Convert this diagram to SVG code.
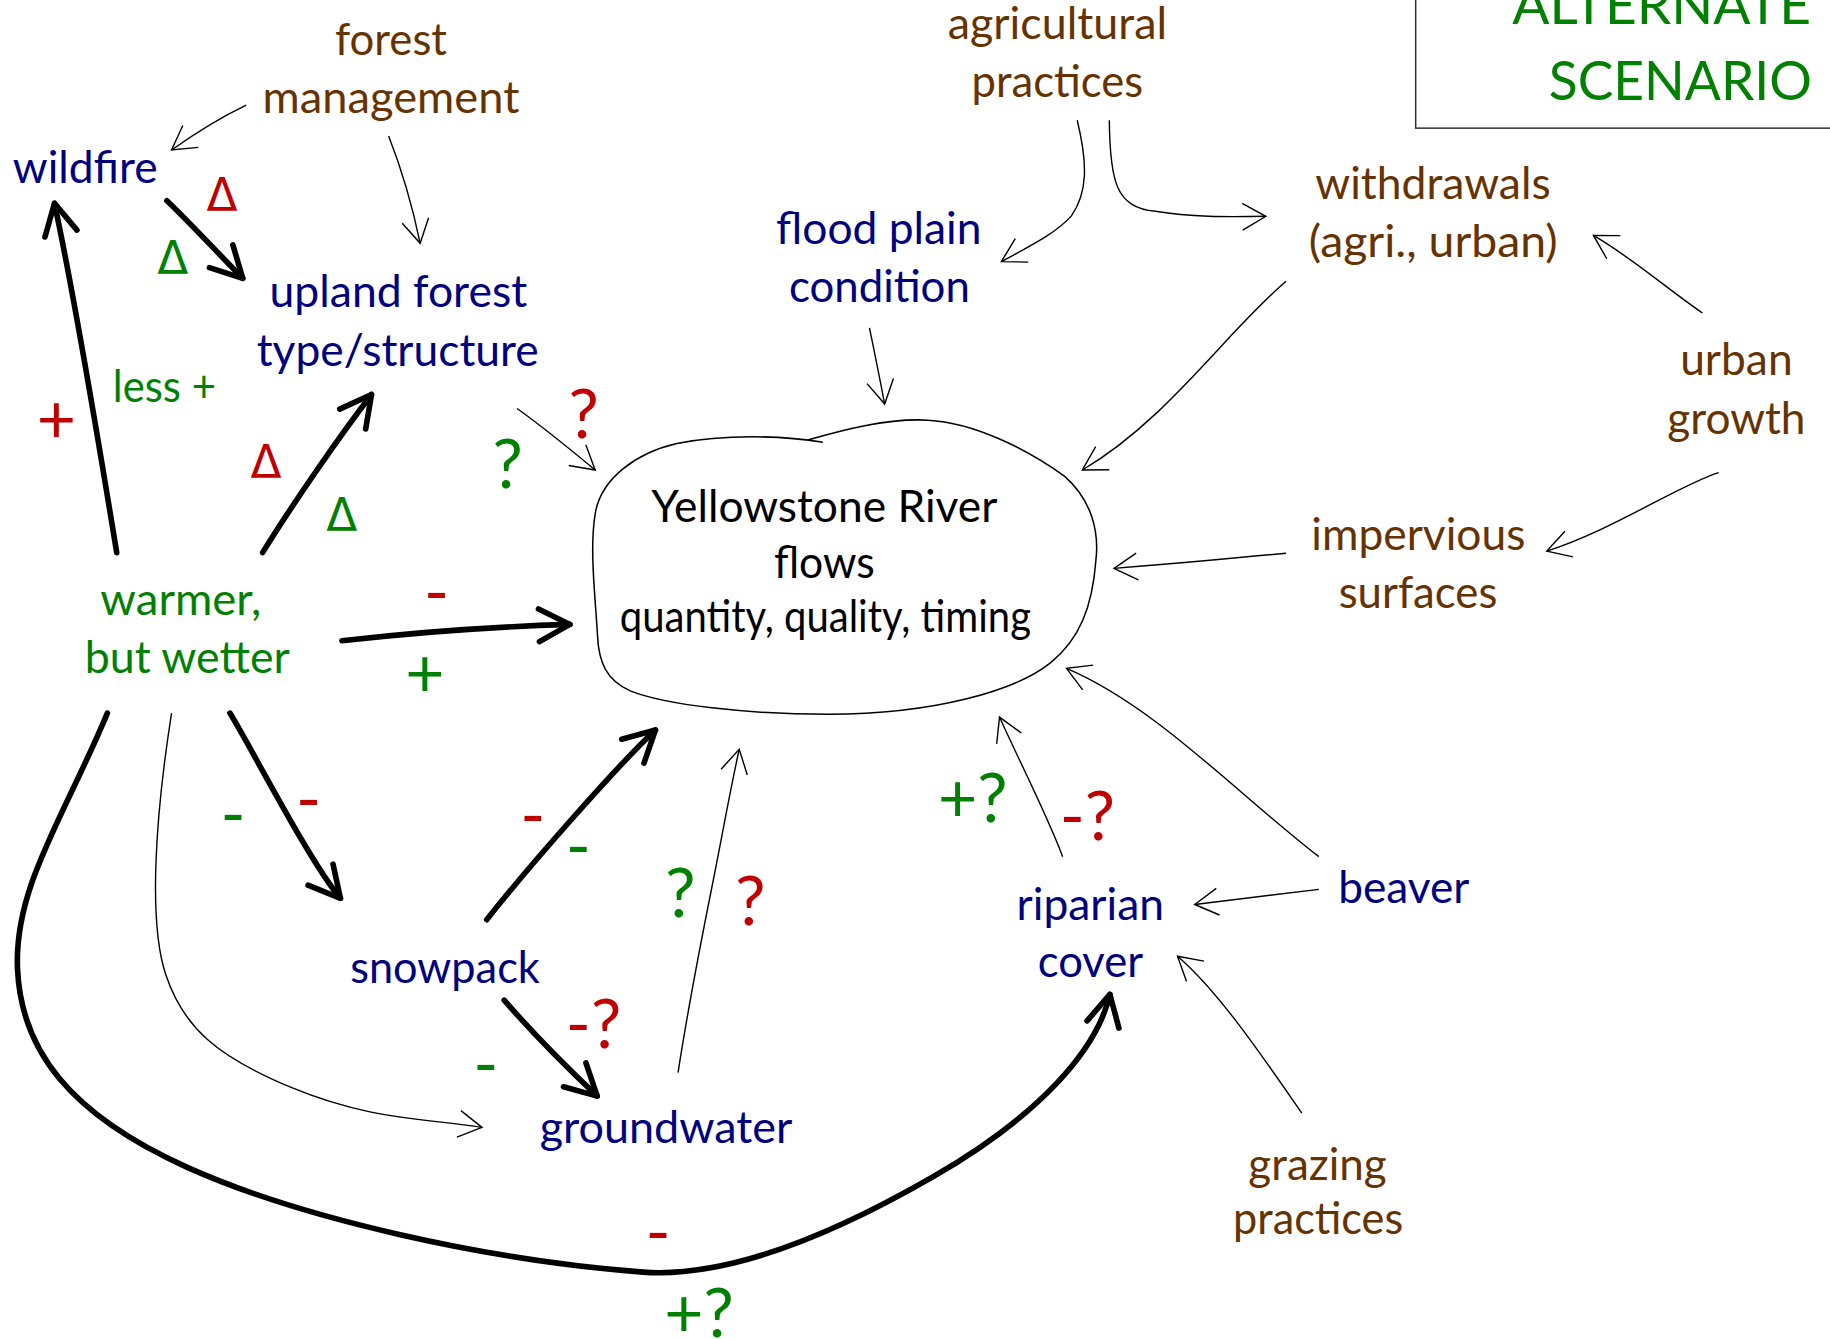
<svg xmlns="http://www.w3.org/2000/svg" width="1830" height="1339" viewBox="0 0 1830 1339">
<style>
text { font-family: Lato, 'Open Sans', sans-serif; }
.lbl { font-size: 38px; text-anchor: middle; }
.navy { fill: #00007F; }
.brown { fill: #663300; }
.green { fill: #008000; }
.red { fill: #C00000; }
.sym { font-size: 58px; text-anchor: middle; }
.delta { font-size: 39px; text-anchor: middle; font-family: 'DejaVu Sans', sans-serif; }
.thin { fill: none; stroke: #000; stroke-width: 1.2; marker-end: url(#ah); }
.thick { fill: none; stroke: #000; stroke-width: 4.8; stroke-linecap: round; marker-end: url(#ahT); }
</style>
<defs>
<marker id="ah" markerUnits="userSpaceOnUse" viewBox="-30 -20 40 40" markerWidth="40" markerHeight="40" refX="0" refY="0" orient="auto" overflow="visible">
<path d="M-20,-11.5 L0,0 L-20,11.5" fill="none" stroke="#000" stroke-width="1.2"/>
</marker>
<marker id="ahT" markerUnits="userSpaceOnUse" viewBox="-40 -25 50 50" markerWidth="50" markerHeight="50" refX="0" refY="0" orient="auto" overflow="visible">
<path d="M-26.5,-14 L0,0 L-26.5,14" fill="none" stroke="#000" stroke-width="4.8" stroke-linecap="round" stroke-linejoin="round"/>
</marker>
</defs>
<rect x="0" y="0" width="1830" height="1339" fill="#fff"/>
<g transform="scale(1.16709)">
<g id="connectors">
<path class="thin" d="M211,90 C190,100 166,115 147,128.5"/>
<path class="thin" d="M333,116.5 Q350,160 360,208.5"/>
<path class="thick" d="M143,172 C158,186 185,215 208,238.5"/>
<path class="thick" d="M100,473.5 C88,400 65,260 46.7,174.2"/>
<path class="thick" d="M225,473.5 C250,433 290,375 318.3,338"/>
<path class="thin" d="M443,350 C460,362 485,382 510,402.7"/>
<path class="thick" d="M293,549 Q390,538 488.3,535"/>
<path class="thick" d="M197,611 C215,640 265,738 291.7,769.7"/>
<path class="thin" d="M147,611 C133,700 127,790 142,835 S185,905 250,932 S360,958 413,966"/>
<path class="thick" d="M92,611 C55,700 12,760 15,830 S60,955 160,1000 S420,1080 551,1090 C621,1095 710,1060 800,1008 S940,900 951,852"/>
<path class="thick" d="M417,788 C455,740 530,655 561.6,625.5"/>
<path class="thick" d="M432,857 Q465,895 511.7,939.2"/>
<path class="thin" d="M581,919 C590,860 600,810 610,760 C620,710 625,680 633.4,642"/>
<path class="thin" d="M745,281 Q752,315 758,346.2"/>
<path class="thin" d="M923,103 C932,140 932,165 918,185 C905,200 880,212 858,224.2"/>
<path class="thin" d="M950.5,103 C951,155 956,178 990,181 C1020,186 1050,186 1084.6,185.3"/>
<path class="thin" d="M1102,241 C1050,285 1000,360 927.4,402.7"/>
<path class="thin" d="M1458.7,268.2 C1425,245 1400,222 1365.3,201.7"/>
<path class="thin" d="M1472.6,405 C1440,415 1380,455 1325.3,472.2"/>
<path class="thin" d="M1102,474 Q1040,480 954.5,487"/>
<path class="thin" d="M910.5,734 C898,700 870,645 856.4,614.4"/>
<path class="thin" d="M1130,734 C1060,680 990,605 913.8,572.7"/>
<path class="thin" d="M1130,762 L1023.7,775"/>
<path class="thin" d="M1115.4,953.7 C1085,910 1045,850 1008.9,819.3"/>
</g>
<g id="edge-labels">
<text class="delta red" x="190.3" y="180.6">Δ</text>
<text class="delta green" x="148" y="235">Δ</text>
<text class="delta red" x="228" y="410">Δ</text>
<text class="delta green" x="292.8" y="455">Δ</text>
<text class="sym red" x="48.3" y="379.5">+</text>
<text class="green" x="96.7" y="344.3" font-size="38" textLength="88.3" lengthAdjust="spacingAndGlyphs">less +</text>
<text class="sym red" x="500" y="375.7">?</text>
<text class="sym green" x="435" y="418.5">?</text>
<text class="sym red" x="374" y="528">-</text>
<text class="sym green" x="364" y="597">+</text>
<text class="sym green" x="199.7" y="718">-</text>
<text class="sym red" x="264.5" y="705.5">-</text>
<text class="sym red" x="456.5" y="719">-</text>
<text class="sym green" x="495.5" y="745.5">-</text>
<text class="sym green" x="583" y="785.5">?</text>
<text class="sym red" x="643" y="792.6">?</text>
<text class="sym green" x="833.5" y="704.1">+?</text>
<text class="sym red" x="931.7" y="719.8">-?</text>
<text class="sym red" x="508.5" y="898.3">-?</text>
<text class="sym green" x="416.2" y="932">-</text>
<text class="sym red" x="563.9" y="1076">-</text>
<text class="sym green" x="599" y="1145.4">+?</text>
</g>
<g id="n-forest-management">
<text class="lbl brown" x="335" y="47" textLength="96" lengthAdjust="spacingAndGlyphs">forest</text>
<text class="lbl brown" x="335" y="96.6" textLength="220" lengthAdjust="spacingAndGlyphs">management</text>
</g>
<g id="n-agricultural-practices">
<text class="lbl brown" x="906" y="33.7" textLength="188" lengthAdjust="spacingAndGlyphs">agricultural</text>
<text class="lbl brown" x="906" y="82.8" textLength="147" lengthAdjust="spacingAndGlyphs">practices</text>
</g>
<g id="n-alternate-scenario">
<rect x="1213" y="-10" width="400" height="119.8" fill="none" stroke="#333" stroke-width="1.3"/>
<text class="green" x="1551.7" y="20.3" font-size="47" text-anchor="end" textLength="256" lengthAdjust="spacingAndGlyphs">ALTERNATE</text>
<text class="green" x="1552.6" y="85.9" font-size="47" text-anchor="end" textLength="225.6" lengthAdjust="spacingAndGlyphs">SCENARIO</text>
</g>
<g id="n-wildfire">
<text class="navy" x="11" y="156.6" font-size="38" textLength="124" lengthAdjust="spacingAndGlyphs">wildfire</text>
</g>
<g id="n-upland-forest">
<text class="lbl navy" x="341.3" y="263.4" textLength="220.7" lengthAdjust="spacingAndGlyphs">upland forest</text>
<text class="lbl navy" x="340.8" y="313.7" textLength="241.7" lengthAdjust="spacingAndGlyphs">type/structure</text>
</g>
<g id="n-flood-plain">
<text class="lbl navy" x="753" y="209" textLength="176" lengthAdjust="spacingAndGlyphs">flood plain</text>
<text class="lbl navy" x="753.5" y="258.5" textLength="155" lengthAdjust="spacingAndGlyphs">condition</text>
</g>
<g id="n-withdrawals">
<text class="lbl brown" x="1227.8" y="170.5" textLength="201.7" lengthAdjust="spacingAndGlyphs">withdrawals</text>
<text class="lbl brown" x="1228" y="220.4" textLength="213.4" lengthAdjust="spacingAndGlyphs">(agri., urban)</text>
</g>
<g id="n-urban-growth">
<text class="lbl brown" x="1487.8" y="321.3" textLength="96.4" lengthAdjust="spacingAndGlyphs">urban</text>
<text class="lbl brown" x="1487.8" y="371.5" textLength="118.3" lengthAdjust="spacingAndGlyphs">growth</text>
</g>
<g id="n-impervious-surfaces">
<text class="lbl brown" x="1215.3" y="471.5" textLength="183.4" lengthAdjust="spacingAndGlyphs">impervious</text>
<text class="lbl brown" x="1215" y="521" textLength="136" lengthAdjust="spacingAndGlyphs">surfaces</text>
</g>
<g id="n-yellowstone">
<path d="M692,377 C720,369 760,358 795,360 C835,362 880,385 912,408 C935,428 942,455 939,480 C936,520 925,548 900,568 C870,592 800,612 710,612 C640,612 570,604 540,592 C520,583 513,568 512,545 C510,510 505,470 510,440 C515,410 545,388 580,380 C620,372 670,373 705,379" fill="none" stroke="#000" stroke-width="1.3"/>
<text class="lbl" x="706.3" y="447" fill="#000" textLength="296.5" lengthAdjust="spacingAndGlyphs">Yellowstone River</text>
<text class="lbl" x="706.3" y="495.5" fill="#000" textLength="86.3" lengthAdjust="spacingAndGlyphs">flows</text>
<text class="lbl" x="707.2" y="541.2" fill="#000" font-size="34" textLength="352.4" lengthAdjust="spacingAndGlyphs">quantity, quality, timing</text>
</g>
<g id="n-warmer">
<text class="lbl green" x="155" y="527" textLength="138" lengthAdjust="spacingAndGlyphs">warmer,</text>
<text class="lbl green" x="160.5" y="576.4" textLength="175.6" lengthAdjust="spacingAndGlyphs">but wetter</text>
</g>
<g id="n-snowpack">
<text class="lbl navy" x="381.3" y="842.5" textLength="162.5" lengthAdjust="spacingAndGlyphs">snowpack</text>
</g>
<g id="n-groundwater">
<text class="lbl navy" x="570.7" y="979.7" textLength="216.5" lengthAdjust="spacingAndGlyphs">groundwater</text>
</g>
<g id="n-riparian">
<text class="lbl navy" x="934.2" y="788.1" textLength="126.3" lengthAdjust="spacingAndGlyphs">riparian</text>
<text class="lbl navy" x="934.3" y="837.3" textLength="90.2" lengthAdjust="spacingAndGlyphs">cover</text>
</g>
<g id="n-beaver">
<text class="lbl navy" x="1202.8" y="773.4" textLength="112.4" lengthAdjust="spacingAndGlyphs">beaver</text>
</g>
<g id="n-grazing">
<text class="lbl brown" x="1128.9" y="1011" textLength="118.6" lengthAdjust="spacingAndGlyphs">grazing</text>
<text class="lbl brown" x="1129.4" y="1057" textLength="145.7" lengthAdjust="spacingAndGlyphs">practices</text>
</g>
</g>
</svg>
